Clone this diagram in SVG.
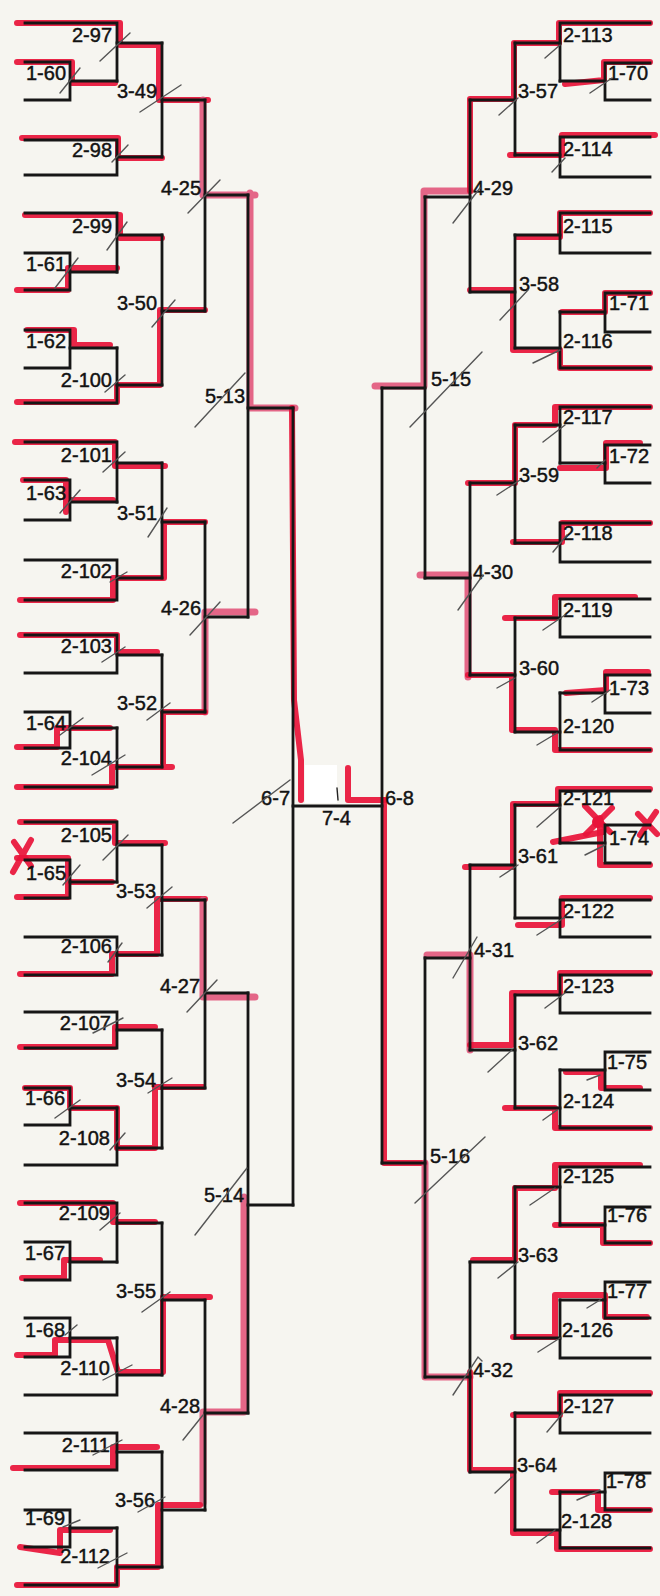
<svg xmlns="http://www.w3.org/2000/svg" width="660" height="1596" viewBox="0 0 660 1596">
<style>
.b{fill:none;stroke:#161616;stroke-width:2.8;stroke-linecap:square}
.r{fill:none;stroke:#e8143a;stroke-width:6;stroke-linecap:round;stroke-linejoin:round;opacity:.93}
.p{fill:none;stroke:#e2567b;stroke-width:7;stroke-linecap:round;stroke-linejoin:round;opacity:.9}
.s{fill:none;stroke:#555;stroke-width:1.4;stroke-linecap:round}
text{font-family:"Liberation Sans",Arial,sans-serif;font-size:20px;fill:#121212;stroke:#121212;stroke-width:0.45}
.e{text-anchor:end}
</style>
<rect width="660" height="1596" fill="#f6f5f0"/>
<g id="highlights">
<path class="r" d="M17 23H120V45H159V100H208"/>
<path class="p" d="M203 100V195H255M250 193V408H295"/>
<path class="r" d="M292 408L294 700L301 760V800" stroke-width="7"/>
<path class="r" d="M17 62H72V83H115"/>
<path class="r" d="M22 138H118V158H162"/>
<path class="r" d="M25 215H120V238H162"/>
<path class="r" d="M17 290H68V268H117"/>
<path class="r" d="M17 402H117V385H160V310H205"/>
<path class="r" d="M27 330H74V345H110"/>
<path class="r" d="M15 442H115V466H165"/>
<path class="r" d="M23 480H66V512M66 500H113"/>
<path class="r" d="M20 600H113V578H164V522H205"/>
<path class="r" d="M20 635H117V652H157"/>
<path class="p" d="M255 612H205V712"/>
<path class="r" d="M205 712H163V767H112V787H17M117 767H172"/>
<path class="r" d="M17 747H57V728H110"/>
<path class="r" d="M20 822H115V843H165"/>
<path class="r" d="M14 842L31 866M31 840L13 872" stroke-width="4.5"/>
<path class="r" d="M17 858H68V897H17M70 882H112"/>
<path class="r" d="M205 899H157V954H112V974H20"/>
<path class="p" d="M203 900V997H255"/>
<path class="r" d="M20 1047H115V1027H155"/>
<path class="r" d="M203 1087H155V1148H117V1108H70V1088H25"/>
<path class="r" d="M20 1203H113V1222H155"/>
<path class="p" d="M244 1197V1412H203V1503"/>
<path class="r" d="M200 1505H158V1567H117V1585H17"/>
<path class="r" d="M22 1278H64V1260H100"/>
<path class="r" d="M210 1297H163V1372H118L108 1340H55V1355H17"/>
<path class="r" d="M13 1468H113V1447H157"/>
<path class="r" d="M20 1547L60 1553V1530H110"/>
<path class="r" d="M348 768V800H385" stroke-width="7"/>
<path class="r" d="M384 800V1163H425"/>
<path class="p" d="M425 1163V1377H470"/>
<path class="r" d="M470 1372V1470H513V1533H557V1549H650"/>
<path class="p" d="M375 386H424V191H470"/>
<path class="r" d="M470 191V99H514V43H559V23H650"/>
<path class="r" d="M650 62H604V80L565 84"/>
<path class="r" d="M655 135H562V155H510"/>
<path class="r" d="M650 213H560V237H517"/>
<path class="r" d="M470 290H513V350H560V368H650"/>
<path class="r" d="M650 293H605V312H562"/>
<path class="p" d="M420 575H468V677"/>
<path class="r" d="M468 675H512V730H555V750H650"/>
<path class="r" d="M650 407H555V425H515V483H468"/>
<path class="r" d="M640 443H606V468H560"/>
<path class="r" d="M650 523H562V542H513"/>
<path class="r" d="M635 597H555V618H505"/>
<path class="r" d="M648 672H606V690L566 693"/>
<path class="r" d="M650 789H558V804H513V867H465"/>
<path class="r" d="M553 842L603 832" stroke-width="8"/>
<path class="r" d="M600 818V865H650"/>
<path class="r" d="M585 806L610 832M612 808L586 834" stroke-width="4.5"/>
<circle cx="598" cy="822" r="6" fill="#e8143a"/>
<path class="r" d="M638 814L657 834M656 812L640 835" stroke-width="3.5"/>
<path class="r" d="M650 898H562V925H518"/>
<path class="p" d="M427 955H470V1050"/>
<path class="r" d="M470 1045H512V993H560V973H650"/>
<path class="r" d="M566 1072H601V1088H640"/>
<path class="r" d="M505 1108H555V1128H650"/>
<path class="r" d="M640 1165H555V1188H515V1260H473"/>
<path class="r" d="M555 1225H603V1243H650"/>
<path class="r" d="M647 1317H605V1295H555V1337H513"/>
<path class="r" d="M650 1393H560V1415H513"/>
<path class="r" d="M552 1492H598V1510H650"/>
</g>
<rect x="305" y="765" width="32" height="38" fill="#ffffff"/>
<g id="connectors" class="b">
<path d="M70 81H117M117 43H162M117 157H162M162 100H205M70 272H117M117 235H162M70 348H117M117 385H162M162 311H205M205 195H248"/>
<path d="M70 502H117M117 463H162M117 578H162M162 522H205M117 655H162M70 728H117M117 767H162M162 712H205M205 617H248M248 408H293"/>
<path d="M70 882H117M117 845H162M117 955H162M162 900H205M117 1030H162M70 1108H117M117 1148H162M162 1088H205M205 993H248"/>
<path d="M70 1262H117M117 1223H162M70 1338H117M117 1375H162M162 1300H205M117 1452H162M70 1528H117M117 1567H162M162 1510H205M205 1413H248M248 1205H293"/>
<path d="M605 81H560M560 43H515M560 155H515M515 100H470M560 235H515M605 312H560M560 348H515M515 292H470M470 197H425"/>
<path d="M560 425H515M605 463H560M560 543H515M515 483H470M560 618H515M605 693H560M560 732H515M515 675H470M470 578H425M425 388H382"/>
<path d="M560 805H515M605 843H560M560 918H515M515 865H470M560 995H515M605 1070H560M560 1108H515M515 1050H470M470 958H425"/>
<path d="M560 1187H515M605 1225H560M605 1300H560M560 1338H515M515 1262H470M560 1413H515M605 1492H560M560 1530H515M515 1472H470M470 1377H425M425 1163H382"/>
</g>
<g id="n1-60"><path class="b" d="M25 62H70V100H25"/><text x="26" y="80">1-60</text></g>
<g id="n2-97"><path class="b" d="M25 23H117V81"/><text class="e" x="112" y="42">2-97</text></g>
<g id="n2-98"><path class="b" d="M25 140H117V175H25"/><text class="e" x="112" y="157">2-98</text></g>
<g id="n3-49"><path class="b" d="M162 43V157"/><text class="e" x="157" y="98">3-49</text></g>
<g id="n1-61"><path class="b" d="M25 253H70V290H25"/><text x="26" y="271">1-61</text></g>
<g id="n2-99"><path class="b" d="M25 213H117V272"/><text class="e" x="112" y="233">2-99</text></g>
<g id="n1-62"><path class="b" d="M25 330H70V368H25"/><text x="26" y="348">1-62</text></g>
<g id="n2-100"><path class="b" d="M117 348V403H25"/><text class="e" x="112" y="387">2-100</text></g>
<g id="n3-50"><path class="b" d="M162 235V385"/><text class="e" x="157" y="310">3-50</text></g>
<g id="n4-25"><path class="b" d="M205 100V311"/><text class="e" x="201" y="195">4-25</text></g>
<g id="n1-63"><path class="b" d="M25 480H70V520H25"/><text x="26" y="500">1-63</text></g>
<g id="n2-101"><path class="b" d="M25 442H117V502"/><text class="e" x="112" y="462">2-101</text></g>
<g id="n2-102"><path class="b" d="M25 560H117V600H25"/><text class="e" x="112" y="578">2-102</text></g>
<g id="n3-51"><path class="b" d="M162 463V578"/><text class="e" x="157" y="520">3-51</text></g>
<g id="n2-103"><path class="b" d="M25 635H117V673H25"/><text class="e" x="112" y="653">2-103</text></g>
<g id="n1-64"><path class="b" d="M25 712H70V748H25"/><text x="26" y="730">1-64</text></g>
<g id="n2-104"><path class="b" d="M117 728V787H25"/><text class="e" x="112" y="765">2-104</text></g>
<g id="n3-52"><path class="b" d="M162 655V767"/><text class="e" x="157" y="710">3-52</text></g>
<g id="n4-26"><path class="b" d="M205 522V712"/><text class="e" x="201" y="615">4-26</text></g>
<g id="n5-13"><path class="b" d="M248 195V617"/><text class="e" x="245" y="403">5-13</text></g>
<g id="n1-65"><path class="b" d="M25 860H70V898H25"/><text x="26" y="880">1-65</text></g>
<g id="n2-105"><path class="b" d="M25 822H117V882"/><text class="e" x="112" y="842">2-105</text></g>
<g id="n2-106"><path class="b" d="M25 937H117V975H25"/><text class="e" x="112" y="953">2-106</text></g>
<g id="n3-53"><path class="b" d="M162 845V955"/><text class="e" x="156" y="898">3-53</text></g>
<g id="n2-107"><path class="b" d="M25 1012H117V1048H25"/><text class="e" x="111" y="1030">2-107</text></g>
<g id="n1-66"><path class="b" d="M25 1088H70V1125H25"/><text x="25" y="1105">1-66</text></g>
<g id="n2-108"><path class="b" d="M117 1108V1165H25"/><text class="e" x="110" y="1145">2-108</text></g>
<g id="n3-54"><path class="b" d="M162 1030V1148"/><text class="e" x="156" y="1087">3-54</text></g>
<g id="n4-27"><path class="b" d="M205 900V1088"/><text class="e" x="200" y="993">4-27</text></g>
<g id="n1-67"><path class="b" d="M25 1242H70V1280H25"/><text x="25" y="1260">1-67</text></g>
<g id="n2-109"><path class="b" d="M25 1203H117V1262"/><text class="e" x="110" y="1220">2-109</text></g>
<g id="n1-68"><path class="b" d="M25 1318H70V1357H25"/><text x="25" y="1337">1-68</text></g>
<g id="n2-110"><path class="b" d="M117 1338V1395H25"/><text class="e" x="110" y="1375">2-110</text></g>
<g id="n3-55"><path class="b" d="M162 1223V1375"/><text class="e" x="156" y="1298">3-55</text></g>
<g id="n2-111"><path class="b" d="M25 1433H117V1470H25"/><text class="e" x="110" y="1452">2-111</text></g>
<g id="n1-69"><path class="b" d="M25 1510H70V1547H25"/><text x="25" y="1525">1-69</text></g>
<g id="n2-112"><path class="b" d="M117 1528V1585H25"/><text class="e" x="110" y="1563">2-112</text></g>
<g id="n3-56"><path class="b" d="M162 1452V1567"/><text class="e" x="155" y="1507">3-56</text></g>
<g id="n4-28"><path class="b" d="M205 1300V1510"/><text class="e" x="200" y="1413">4-28</text></g>
<g id="n5-14"><path class="b" d="M248 993V1413"/><text class="e" x="244" y="1202">5-14</text></g>
<g id="n6-7"><path class="b" d="M293 408V1205"/><text class="e" x="290" y="805">6-7</text></g>
<g id="n7-4"><path class="b" d="M293 806H382"/><text x="322" y="825">7-4</text></g>
<g id="n6-8"><path class="b" d="M382 388V1163"/><text x="385" y="805">6-8</text></g>
<g id="n1-70"><path class="b" d="M650 63H605V100H650"/><text x="608" y="80">1-70</text></g>
<g id="n2-113"><path class="b" d="M650 23H560V81"/><text x="563" y="42">2-113</text></g>
<g id="n2-114"><path class="b" d="M650 137H560V177H650"/><text x="563" y="156">2-114</text></g>
<g id="n3-57"><path class="b" d="M515 43V155"/><text x="518" y="98">3-57</text></g>
<g id="n2-115"><path class="b" d="M650 213H560V253H650"/><text x="563" y="233">2-115</text></g>
<g id="n1-71"><path class="b" d="M650 293H605V332H650"/><text x="609" y="310">1-71</text></g>
<g id="n2-116"><path class="b" d="M560 312V368H650"/><text x="563" y="348">2-116</text></g>
<g id="n3-58"><path class="b" d="M515 235V348"/><text x="519" y="291">3-58</text></g>
<g id="n4-29"><path class="b" d="M470 100V292"/><text x="473" y="195">4-29</text></g>
<g id="n2-117"><path class="b" d="M650 407H560V463"/><text x="563" y="424">2-117</text></g>
<g id="n1-72"><path class="b" d="M650 445H605V483H650"/><text x="609" y="463">1-72</text></g>
<g id="n2-118"><path class="b" d="M650 523H560V562H650"/><text x="563" y="540">2-118</text></g>
<g id="n3-59"><path class="b" d="M515 425V543"/><text x="519" y="482">3-59</text></g>
<g id="n2-119"><path class="b" d="M650 599H560V637H650"/><text x="563" y="617">2-119</text></g>
<g id="n1-73"><path class="b" d="M650 675H605V713H650"/><text x="609" y="695">1-73</text></g>
<g id="n2-120"><path class="b" d="M560 693V750H650"/><text x="563" y="733">2-120</text></g>
<g id="n3-60"><path class="b" d="M515 618V732"/><text x="519" y="675">3-60</text></g>
<g id="n4-30"><path class="b" d="M470 483V675"/><text x="473" y="579">4-30</text></g>
<g id="n5-15"><path class="b" d="M425 197V578"/><text x="431" y="386">5-15</text></g>
<g id="n2-121"><path class="b" d="M650 791H560V843"/><text x="563" y="805">2-121</text></g>
<g id="n1-74"><path class="b" d="M650 825H605V863H650"/><text x="609" y="845">1-74</text></g>
<g id="n2-122"><path class="b" d="M650 900H560V937H650"/><text x="563" y="918">2-122</text></g>
<g id="n3-61"><path class="b" d="M515 805V918"/><text x="518" y="863">3-61</text></g>
<g id="n2-123"><path class="b" d="M650 975H560V1013H650"/><text x="563" y="993">2-123</text></g>
<g id="n1-75"><path class="b" d="M650 1052H605V1090H650"/><text x="607" y="1069">1-75</text></g>
<g id="n2-124"><path class="b" d="M560 1070V1128H650"/><text x="563" y="1108">2-124</text></g>
<g id="n3-62"><path class="b" d="M515 995V1108"/><text x="518" y="1050">3-62</text></g>
<g id="n4-31"><path class="b" d="M470 865V1050"/><text x="474" y="957">4-31</text></g>
<g id="n2-125"><path class="b" d="M650 1167H560V1225"/><text x="563" y="1183">2-125</text></g>
<g id="n1-76"><path class="b" d="M650 1207H605V1243H650"/><text x="607" y="1222">1-76</text></g>
<g id="n1-77"><path class="b" d="M650 1282H605V1318H650"/><text x="607" y="1298">1-77</text></g>
<g id="n2-126"><path class="b" d="M560 1300V1358H650"/><text x="562" y="1337">2-126</text></g>
<g id="n3-63"><path class="b" d="M515 1187V1338"/><text x="518" y="1262">3-63</text></g>
<g id="n2-127"><path class="b" d="M650 1395H560V1433H650"/><text x="563" y="1413">2-127</text></g>
<g id="n1-78"><path class="b" d="M650 1473H605V1510H650"/><text x="606" y="1488">1-78</text></g>
<g id="n2-128"><path class="b" d="M560 1492V1548H650"/><text x="561" y="1528">2-128</text></g>
<g id="n3-64"><path class="b" d="M515 1413V1530"/><text x="517" y="1472">3-64</text></g>
<g id="n4-32"><path class="b" d="M470 1262V1472"/><text x="473" y="1377">4-32</text></g>
<g id="n5-16"><path class="b" d="M425 958V1377"/><text x="430" y="1163">5-16</text></g>
<g id="marks" class="s">
<path d="M100 61L130 33M60 93L80 68M140 112L181 85M112 162L128 145M188 213L220 180M107 250L127 222M55 288L78 258M152 327L175 300M105 392L125 375M195 427L245 373"/>
<path d="M103 472L125 452M60 513L80 490M148 537L167 508M110 582L127 572M190 635L220 602M102 662L125 647M147 720L170 703M60 735L83 718M92 775L125 755"/>
<path d="M233 823L290 780M103 860L128 835M63 885L80 865M147 908L172 887M108 962L122 943M187 1012L217 980M93 1033L123 1018M148 1093L172 1078M55 1118L80 1100M110 1150L125 1133M195 1235L247 1168"/>
<path d="M100 1230L120 1213M142 1312L170 1292M65 1335L77 1325M103 1380L132 1365M183 1440L203 1415M93 1455L122 1440M138 1512L165 1497M63 1527L80 1520M98 1568L127 1553"/>
<path d="M545 58L560 45M590 93L612 78M499 115L518 98M552 172L565 158M453 223L480 188M500 320L528 290M533 363L560 350M410 427L482 352"/>
<path d="M543 442L565 425M597 468L605 460M497 495L520 480M553 552L567 535M458 610L483 575M543 630L565 615M497 688L515 678M592 702L610 690M537 745L557 733"/>
<path d="M537 827L560 807M585 855L605 845M500 877L518 865M537 935L565 917M453 978L477 937M545 1008L565 993M488 1072L512 1050M587 1080L600 1075M543 1120L557 1110M415 1203L485 1137"/>
<path d="M530 1205L555 1188M498 1278L518 1262M587 1308L600 1300M538 1352L560 1338M453 1395L478 1357L482 1361M547 1432L563 1413M495 1493L512 1477M577 1500L600 1490M537 1543L555 1530"/>
<path d="M337 788L338 800" stroke="#222"/>
</g>
</svg>
